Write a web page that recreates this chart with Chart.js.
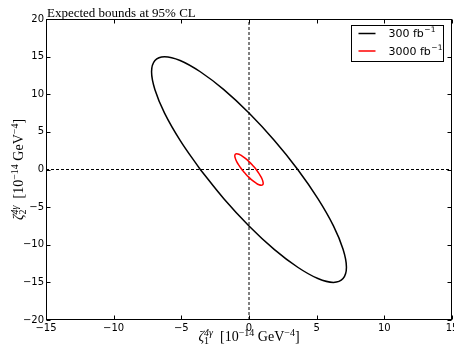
<!DOCTYPE html>
<html>
<head>
<meta charset="utf-8">
<script src="https://cdn.jsdelivr.net/npm/chart.js@4.4.1/dist/chart.umd.min.js"></script>
<style>
body { margin: 0; background: #fff; }
</style>
</head>
<body>
<canvas id="bounds" width="454" height="349"></canvas>
<script>
// axis ticks
const xTicks = [-15, -10, -5, 0, 5, 10, 15];
const yTicks = [-20, -15, -10, -5, 0, 5, 10, 15, 20];

// luminosities for the legend
const lumis = ['300', '3000'];

// 300 fb^-1 contour
const zeta1_300 = [-3.6, -1.86, 0, 1.86, 3.6, 5.09, 6.24, 6.95, 7.2, 6.95, 6.24, 5.09, 3.6,
  1.86, 0, -1.86, -3.6, -5.09, -6.24, -6.95, -7.2, -6.95, -6.24, -5.09, -3.6];
const zeta2_300 = [0, -3.88, -7.5, -10.61, -12.99, -14.49, -15, -14.49, -12.99, -10.61, -7.5, -3.88, 0,
  3.88, 7.5, 10.61, 12.99, 14.49, 15, 14.49, 12.99, 10.61, 7.5, 3.88, 0];

// 3000 fb^-1 contour
const zeta1_3000 = [-0.53, -0.27, 0, 0.27, 0.53, 0.74, 0.91, 1.01, 1.05, 1.01, 0.91, 0.74, 0.53,
  0.27, 0, -0.27, -0.53, -0.74, -0.91, -1.01, -1.05, -1.01, -0.91, -0.74, -0.53];
const zeta2_3000 = [0, -0.54, -1.05, -1.48, -1.82, -2.03, -2.1, -2.03, -1.82, -1.48, -1.05, -0.54, 0,
  0.54, 1.05, 1.48, 1.82, 2.03, 2.1, 2.03, 1.82, 1.48, 1.05, 0.54, 0];

// dashed guide lines through the origin
const vGuideX = [0, 0];
const vGuideY = [-20, 20];
const hGuideX = [-15, 15];
const hGuideY = [0, 0];

function toPoints(xs, ys) {
    return xs.map((x, i) => ({ x: x, y: ys[i] }));
}

const tickFont = { family: 'DejaVu Sans', size: 10 };
const minus = v => String(v).replace('-', '\u2212');

// draws a row of text pieces with super/subscripts, centred on x
function drawRuns(ctx, runs, x, y) {
    let w = 0;
    const placed = [];
    runs.forEach(r => {
        ctx.font = (r.italic ? 'italic ' : '') + r.size + 'px "Liberation Serif"';
        const tw = ctx.measureText(r.t).width;
        if (r.under) {
            const prev = placed[placed.length - 1];
            placed.push({ r: r, x: prev.x });
            w = Math.max(w, prev.x + tw);
        } else {
            placed.push({ r: r, x: w });
            w += tw;
        }
    });
    ctx.textAlign = 'left';
    ctx.textBaseline = 'alphabetic';
    ctx.fillStyle = '#000';
    placed.forEach(p => {
        ctx.font = (p.r.italic ? 'italic ' : '') + p.r.size + 'px "Liberation Serif"';
        ctx.fillText(p.r.t, x - w / 2 + p.x, y + (p.r.dy || 0));
    });
}

function axisRuns(sub) {
    return [
        { t: '\u03b6', size: 14, italic: true },
        { t: '4\u03b3', size: 10, dy: -5, italic: true },
        { t: sub, size: 10, dy: 3, under: true },
        { t: '  [10', size: 14 },
        { t: '\u221214', size: 10, dy: -5 },
        { t: ' GeV', size: 14 },
        { t: '\u22124', size: 10, dy: -5 },
        { t: ']', size: 14 }
    ];
}

const framePlugin = {
    id: 'frame',
    afterDraw(chart) {
        const ctx = chart.ctx;
        const a = chart.chartArea;
        const sx = chart.scales.x, sy = chart.scales.y;
        const L = Math.round(a.left) + 0.5, R = Math.round(a.right) - 0.5;
        const T = Math.round(a.top) + 0.5, B = Math.round(a.bottom) - 0.5;
        ctx.save();
        ctx.strokeStyle = '#000';
        ctx.lineWidth = 1;
        ctx.setLineDash([]);
        ctx.strokeRect(L, T, R - L, B - T);

        // inward ticks on all four sides
        ctx.beginPath();
        xTicks.forEach(v => {
            const px = Math.round(sx.getPixelForValue(v)) + 0.5;
            ctx.moveTo(px, B); ctx.lineTo(px, B - 4);
            ctx.moveTo(px, T); ctx.lineTo(px, T + 4);
        });
        yTicks.forEach(v => {
            const py = Math.round(sy.getPixelForValue(v)) + 0.5;
            ctx.moveTo(L, py); ctx.lineTo(L + 4, py);
            ctx.moveTo(R, py); ctx.lineTo(R - 4, py);
        });
        ctx.stroke();

        // title
        ctx.font = '13px "Liberation Serif"';
        ctx.fillStyle = '#000';
        ctx.textAlign = 'left';
        ctx.textBaseline = 'alphabetic';
        ctx.fillText('Expected bounds at 95% CL', a.left + 1, 17);

        // axis labels
        drawRuns(ctx, axisRuns('1'), (a.left + a.right) / 2, 341);
        ctx.save();
        ctx.translate(23, (a.top + a.bottom) / 2);
        ctx.rotate(-Math.PI / 2);
        drawRuns(ctx, axisRuns('2'), 0, 0);
        ctx.restore();

        // legend box
        const items = chart.data.datasets.filter(d => d.label);
        const bx = Math.round(a.right) - 101 + 0.5, by = Math.round(a.top) + 6 + 0.5;
        ctx.fillStyle = '#fff';
        ctx.fillRect(bx, by, 92, 36);
        ctx.strokeStyle = '#000';
        ctx.strokeRect(bx, by, 92, 36);
        items.forEach((d, i) => {
            const ly = by + 8 + i * 17.5;
            ctx.strokeStyle = d.borderColor;
            ctx.lineWidth = 1.5;
            ctx.beginPath();
            ctx.moveTo(bx + 7, ly); ctx.lineTo(bx + 24, ly);
            ctx.stroke();
            ctx.fillStyle = '#000';
            ctx.textBaseline = 'middle';
            ctx.font = '11px "DejaVu Sans"';
            const base = d.lumi + ' fb';
            ctx.fillText(base, bx + 37, ly + 1);
            const bw = ctx.measureText(base).width;
            ctx.font = '7.5px "DejaVu Sans"';
            ctx.fillText('\u22121', bx + 37 + bw + 0.5, ly - 3);
        });
        ctx.restore();
    }
};

const ctx = document.getElementById('bounds').getContext('2d');

const myChart = new Chart(ctx, {
    type: 'scatter',
    data: {
        datasets: [{
            label: lumis[0] + ' fb\u207b\u00b9',
            lumi: lumis[0],
            data: toPoints(zeta1_300, zeta2_300),
            showLine: true,
            borderColor: '#000000',
            borderWidth: 1.5,
            pointRadius: 0,
            tension: 0.4,
            fill: false
        }, {
            label: lumis[1] + ' fb\u207b\u00b9',
            lumi: lumis[1],
            data: toPoints(zeta1_3000, zeta2_3000),
            showLine: true,
            borderColor: '#ff0000',
            borderWidth: 1.5,
            pointRadius: 0,
            tension: 0.4,
            fill: false
        }, {
            label: '',
            data: toPoints(vGuideX, vGuideY),
            showLine: true,
            borderColor: '#000000',
            borderWidth: 1,
            borderDash: [3, 2],
            pointRadius: 0
        }, {
            label: '',
            data: toPoints(hGuideX, hGuideY),
            showLine: true,
            borderColor: '#000000',
            borderWidth: 1,
            borderDash: [3, 2],
            pointRadius: 0
        }]
    },
    options: {
        responsive: false,
        animation: false,
        events: [],
        layout: { padding: { top: 19, right: 2, left: 0, bottom: 0 } },
        plugins: {
            legend: { display: false },
            title: { display: false },
            tooltip: { enabled: false }
        },
        scales: {
            x: {
                type: 'linear',
                min: -15,
                max: 15,
                grid: { display: false, drawTicks: false },
                border: { display: false },
                ticks: { font: tickFont, color: '#000', padding: 2, maxRotation: 0, callback: minus },
                afterBuildTicks: s => { s.ticks = xTicks.map(v => ({ value: v })); },
                afterFit: s => { s.height = 29; s.paddingLeft = 0; s.paddingRight = 0; }
            },
            y: {
                type: 'linear',
                min: -20,
                max: 20,
                grid: { display: false, drawTicks: false },
                border: { display: false },
                ticks: { font: tickFont, color: '#000', padding: 2, callback: minus },
                afterBuildTicks: s => { s.ticks = yTicks.map(v => ({ value: v })); },
                afterFit: s => { s.width = 46; s.paddingTop = 0; s.paddingBottom = 0; }
            }
        }
    },
    plugins: [framePlugin]
});
</script>
</body>
</html>
